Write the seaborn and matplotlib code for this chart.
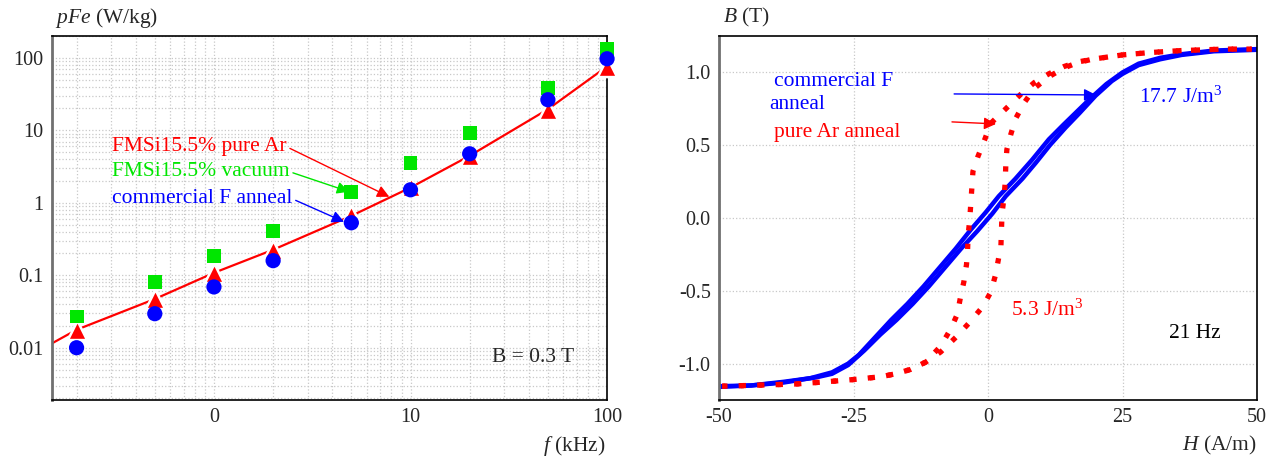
import numpy as np
import pandas as pd
import matplotlib
matplotlib.use("Agg")
import matplotlib.pyplot as plt
import seaborn as sns
from matplotlib.ticker import FixedLocator, LogLocator, NullFormatter

# --- lewy wykres: straty w funkcji czestotliwosci ---
f_khz = [0.2, 0.5, 1, 2, 5, 10, 20, 50, 100]
p_ar = [0.0177, 0.047, 0.108, 0.225, 0.68, 1.66, 4.45, 19.2, 75]
p_vac = [0.027, 0.081, 0.186, 0.41, 1.42, 3.56, 9.2, 38.7, 133]
p_com = [0.010, 0.0295, 0.069, 0.159, 0.53, 1.51, 4.74, 26.4, 97]
fit_f = [0.15, 0.2, 0.5, 1, 2, 5, 10, 20, 50, 100]
fit_p = [0.0115, 0.0177, 0.047, 0.108, 0.225, 0.66, 1.62, 4.45, 19.5, 76]

x_ticks = [1, 10, 100]
x_labels = ["0", "10", "100"]
y_ticks = [0.01, 0.1, 1, 10, 100]
y_labels = ["0.01", "0.1", "1", "10", "100"]

# --- prawy wykres: petle histerezy ---
# commercial F anneal (galaz rosnaca i malejaca)
com_up_H = [-50, -44, -38, -32, -29, -26, -23, -20, -17, -14, -11, -8, -5, -2, 0.8,
            3.3, 6.4, 8.9, 11.5, 14.4, 17, 20, 23, 25, 28, 32, 36, 42, 50]
com_up_B = [-1.155, -1.15, -1.125, -1.095, -1.07, -1.01, -0.91, -0.80, -0.70, -0.59, -0.47,
            -0.34, -0.21, -0.09, 0.03, 0.15, 0.27, 0.38, 0.50, 0.62, 0.72, 0.84, 0.94, 0.99,
            1.05, 1.09, 1.12, 1.145, 1.155]
com_dn_H = [50, 42, 36, 32, 28, 25, 22, 19, 16.5, 14, 11.3, 8.2, 5.1, 2, -0.4, -3.2, -6,
            -9, -12, -15, -18, -21, -24, -26, -29, -33, -38, -44, -50]
com_dn_B = [1.16, 1.15, 1.125, 1.10, 1.06, 1.0, 0.92, 0.82, 0.73, 0.64, 0.54, 0.40, 0.27,
            0.15, 0.04, -0.08, -0.21, -0.34, -0.47, -0.59, -0.70, -0.82, -0.94, -1.0, -1.06,
            -1.10, -1.13, -1.15, -1.16]

# pure Ar anneal
ar_dn_H = [49, 44, 36, 30, 25, 19.3, 16.5, 14.1, 11.3, 8.6, 6.1, 3.3, 0.5, -0.6, -1.9,
           -2.8, -3.0, -3.2, -3.4, -3.7, -3.8, -4.0, -4.5, -5.1, -5.7, -6.9, -8.8, -11.6,
           -14.4, -17.2, -19.9, -25.2, -30.2, -35.7, -44.4, -49.4]
ar_dn_B = [1.16, 1.16, 1.15, 1.136, 1.12, 1.09, 1.07, 1.04, 0.99, 0.93, 0.85, 0.75, 0.65,
           0.54, 0.42, 0.32, 0.21, 0.10, -0.01, -0.12, -0.22, -0.32, -0.44, -0.54, -0.66,
           -0.76, -0.88, -0.99, -1.04, -1.07, -1.09, -1.11, -1.125, -1.14, -1.15, -1.155]
ar_up_H = [-49.4, -44.4, -35.7, -30.2, -25.2, -19.9, -17.2, -14.4, -11.6, -8.8, -6, -3.5,
           -1, 0.5, 1.4, 1.9, 2.4, 2.6, 3.0, 3.2, 3.3, 3.5, 4.2, 5.1, 6.7, 8.6, 11.3, 14.1,
           16.5, 19.3, 25, 30, 36, 44, 49]
ar_up_B = [-1.155, -1.15, -1.14, -1.125, -1.11, -1.09, -1.07, -1.04, -0.99, -0.92, -0.82,
           -0.72, -0.61, -0.51, -0.39, -0.29, -0.19, 0.03, 0.15, 0.25, 0.36, 0.47, 0.57,
           0.68, 0.79, 0.89, 0.97, 1.03, 1.065, 1.09, 1.12, 1.136, 1.15, 1.16, 1.16]

sns.set_style("white")
plt.rcParams["font.family"] = ["Liberation Serif", "DejaVu Serif"]
plt.rcParams["mathtext.fontset"] = "custom"
plt.rcParams["mathtext.rm"] = "Liberation Serif"
plt.rcParams["mathtext.it"] = "Liberation Serif:italic"
plt.rcParams["axes.unicode_minus"] = False

RED = "#ff0000"
GREEN = "#00e600"
BLUE = "#0000ff"
FS = 15.5
DOTS = (0, (1.0, 2.5))

fig = plt.figure(figsize=(12.78, 4.59), dpi=100)
ax1 = fig.add_axes([0.0407, 0.1285, 0.4343, 0.7931])
ax2 = fig.add_axes([0.5626, 0.1285, 0.4210, 0.7931])

# ---------- lewy ----------
ax1.set_xscale("log")
ax1.set_yscale("log")
ax1.set_xlim(0.15, 100)
ax1.set_ylim(0.0019, 200)

sns.lineplot(x=fit_f, y=fit_p, ax=ax1, color=RED, lw=1.6, sort=False, estimator=None, zorder=2)
sns.scatterplot(x=f_khz, y=p_ar, ax=ax1, marker="^", s=190, color=RED, edgecolor="white",
                linewidth=1.8, zorder=3, clip_on=False)
sns.scatterplot(x=f_khz, y=p_vac, ax=ax1, marker="s", s=100, color=GREEN, edgecolor="none",
                zorder=4, clip_on=False)
sns.scatterplot(x=f_khz, y=p_com, ax=ax1, marker="o", s=120, color=BLUE, edgecolor="none",
                zorder=5, clip_on=False)

ax1.xaxis.set_major_locator(FixedLocator(x_ticks))
ax1.set_xticklabels(x_labels)
ax1.xaxis.set_minor_locator(LogLocator(base=10, subs=np.arange(2, 10)))
ax1.xaxis.set_minor_formatter(NullFormatter())
ax1.yaxis.set_major_locator(FixedLocator(y_ticks))
ax1.set_yticklabels(y_labels)
ax1.yaxis.set_minor_locator(LogLocator(base=10, subs=np.arange(2, 10)))
ax1.yaxis.set_minor_formatter(NullFormatter())
ax1.grid(True, which="both", color="#c8c8c8", linestyle=":", lw=0.9)
ax1.tick_params(which="both", length=0, labelsize=14.5, pad=6)
ax1.set_xlabel("")
ax1.set_ylabel("")

ax1.text(0.005, 1.05, "$pFe$ (W/kg)", transform=ax1.transAxes, fontsize=FS, va="center")
ax1.text(0.997, -0.125, "$f$ (kHz)", transform=ax1.transAxes, fontsize=FS, va="center", ha="right")
ax1.text(0.94, 0.118, "B = 0.3 T", transform=ax1.transAxes, fontsize=FS, va="center", ha="right")

ax1.annotate("FMSi15.5% pure Ar", xy=(7.8, 1.21), xytext=(0.303, 5.92), color=RED, fontsize=FS,
             va="center", ha="left",
             arrowprops=dict(arrowstyle="-|>", color=RED, lw=1, mutation_scale=18,
                             shrinkA=0, shrinkB=0, relpos=(1, 0.5)))
ax1.annotate("FMSi15.5% vacuum", xy=(4.87, 1.42), xytext=(0.303, 2.68), color=GREEN, fontsize=FS,
             va="center", ha="left",
             arrowprops=dict(arrowstyle="-|>", color=GREEN, lw=1, mutation_scale=18,
                             shrinkA=0, shrinkB=0, relpos=(1, 0.5)))
ax1.annotate("commercial F anneal", xy=(4.59, 0.547), xytext=(0.303, 1.13), color=BLUE, fontsize=FS,
             va="center", ha="left",
             arrowprops=dict(arrowstyle="-|>", color=BLUE, lw=1, mutation_scale=18,
                             shrinkA=0, shrinkB=0, relpos=(1, 0.5)))

# ---------- prawy ----------
sns.lineplot(x=com_up_H, y=com_up_B, ax=ax2, color=BLUE, lw=3.2, sort=False, estimator=None)
sns.lineplot(x=com_dn_H, y=com_dn_B, ax=ax2, color=BLUE, lw=3.2, sort=False, estimator=None)
sns.lineplot(x=ar_dn_H, y=ar_dn_B, ax=ax2, color=RED, lw=3.8, sort=False, estimator=None,
             linestyle=DOTS)
sns.lineplot(x=ar_up_H, y=ar_up_B, ax=ax2, color=RED, lw=3.8, sort=False, estimator=None,
             linestyle=DOTS)

ax2.set_xlim(-50, 50)
ax2.set_ylim(-1.25, 1.25)
ax2.set_xticks([-50, -25, 0, 25, 50])
ax2.set_xticklabels(["-50", "-25", "0", "25", "50"])
ax2.set_yticks([-1.0, -0.5, 0.0, 0.5, 1.0])
ax2.set_yticklabels(["-1.0", "-0.5", "0.0", "0.5", "1.0"])
ax2.grid(True, color="#c8c8c8", linestyle=":", lw=0.9)
ax2.tick_params(length=0, labelsize=14.5, pad=6)
ax2.set_xlabel("")
ax2.set_ylabel("")

ax2.text(0.007, 1.05, "$B$ (T)", transform=ax2.transAxes, fontsize=FS, va="center")
ax2.text(1.0, -0.125, "$H$ (A/m)", transform=ax2.transAxes, fontsize=FS, va="center", ha="right")
ax2.text(-39.8, 0.935, "commercial F", color=BLUE, fontsize=FS, va="center")
ax2.text(-40.7, 0.777, "anneal", color=BLUE, fontsize=FS, va="center")
ax2.text(-39.8, 0.59, "pure Ar anneal", color=RED, fontsize=FS, va="center")
ax2.text(28.1, 0.83, "17.7 J/m$^3$", color=BLUE, fontsize=FS, va="center")
ax2.text(4.3, -0.63, "5.3 J/m$^3$", color=RED, fontsize=FS, va="center")
ax2.text(33.6, -0.79, "21 Hz", color="black", fontsize=FS, va="center")

ax2.annotate("", xy=(20.1, 0.845), xytext=(-6.3, 0.852),
             arrowprops=dict(arrowstyle="-|>", color=BLUE, lw=1, mutation_scale=18, shrinkA=0, shrinkB=0))
ax2.annotate("", xy=(1.5, 0.646), xytext=(-6.7, 0.66),
             arrowprops=dict(arrowstyle="-|>", color=RED, lw=1, mutation_scale=18, shrinkA=0, shrinkB=0))

for ax in (ax1, ax2):
    for side in ("top", "right", "bottom"):
        ax.spines[side].set_visible(True)
        ax.spines[side].set_color("black")
        ax.spines[side].set_linewidth(1.2)
    ax.spines["left"].set_visible(True)
    ax.spines["left"].set_color("#707070")
    ax.spines["left"].set_linewidth(2)

fig.savefig("out.png", dpi=100)
